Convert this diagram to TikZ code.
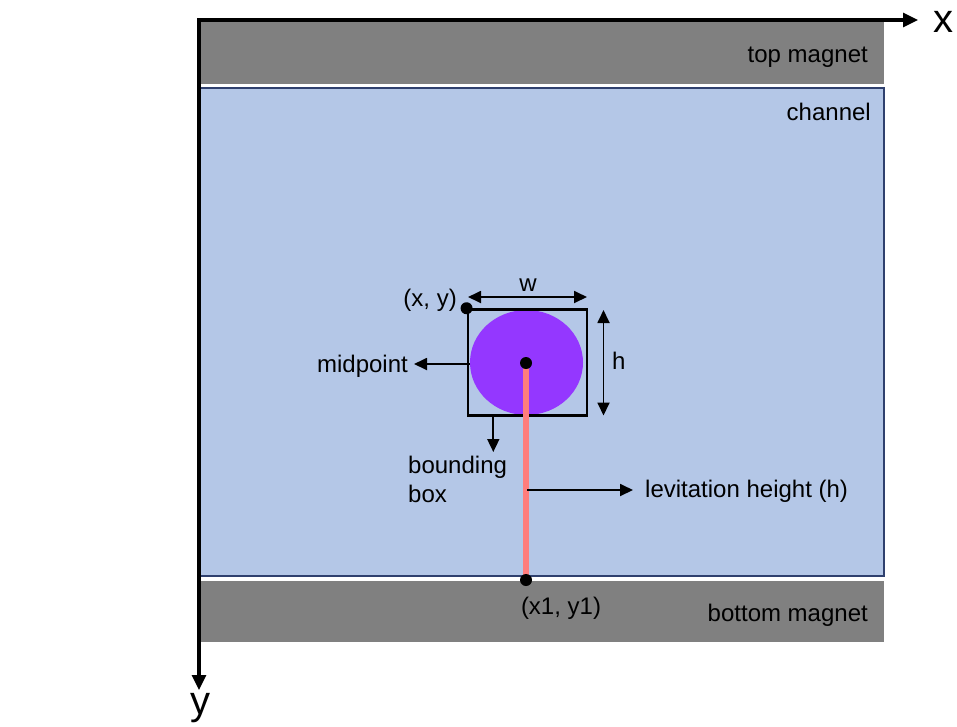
\documentclass[tikz,border=0pt]{standalone}
\usepackage{fontspec}
\setmainfont{Liberation Sans}
\usetikzlibrary{arrows.meta}
\definecolor{maggray}{RGB}{128,128,128}
\definecolor{chanblue}{RGB}{180,199,231}
\definecolor{chanedge}{RGB}{47,64,110}
\definecolor{ballpurple}{RGB}{148,55,255}
\definecolor{levpink}{RGB}{255,125,125}
\begin{document}
\begin{tikzpicture}[x=1pt,y=-1pt,
  lbl/.style={font=\fontsize{24}{29}\selectfont, inner sep=0pt},
  axlbl/.style={font=\fontsize{40}{44}\selectfont, inner sep=0pt},
  ptr/.style={line width=1.8pt, -{Triangle[length=13pt,width=12pt]}},
  dimarrow/.style={line width=1.8pt, {Triangle[length=13pt,width=12pt]}-{Triangle[length=13pt,width=12pt]}},
  dot/.style={circle, fill=black, inner sep=0pt, minimum size=12pt},
  axis/.style={line width=3.2pt, {Triangle[length=15pt,width=14pt]}-{Triangle[length=15pt,width=14pt]}, line join=miter}]
\useasboundingbox (0,0) rectangle (957,726);
% magnets and channel
\fill[maggray] (199,21) rectangle (884,84);
\filldraw[fill=chanblue, draw=chanedge, line width=1.4pt] (200,88) rectangle (884,576);
\fill[maggray] (199,581) rectangle (884,642);
\node[lbl, anchor=base east] (topmag) at (868,62) {top magnet};
\node[lbl, anchor=base east] (chan) at (871,120) {channel};
\node[lbl, anchor=base east] (botmag) at (868,621) {bottom magnet};
% axes
\coordinate (O) at (199,20);
\coordinate (xend) at (918,20);
\coordinate (yend) at (199,690);
\draw[axis] (xend) -- (O) -- (yend);
\node[axlbl, anchor=base] (xl) at (943,32) {x};
\node[axlbl, anchor=base] (yl) at (200,714) {y};
% object
\fill[ballpurple] (526.5,362.5) ellipse (56.5 and 52.5);
\node[draw, line width=2.5pt, minimum width=119pt, minimum height=106pt, inner sep=0pt] (bb) at (527.3,362.5) {};
\coordinate (mid) at (526,363);
\coordinate (ground) at (526,580);
\draw[levpink, line width=6.5pt] (mid) -- (ground);
\node[dot] (middot) at (mid) {};
\node[dot] (gdot) at (ground) {};
\node[dot] (xydot) at (bb.north west) {};
% labels and pointers
\node[lbl, anchor=base east] (midlbl) at (408,372) {midpoint};
\coordinate (midstart) at (470,364);
\draw[ptr] (midstart) -- ([xshift=6pt]midlbl.east |- midstart);
\node[lbl, anchor=base east] (xylbl) at (457,306) {(x, y)};
\coordinate (wl) at (468,297);
\coordinate (wr) at (587,297);
\draw[dimarrow] (wl) -- (wr);
\node[lbl, anchor=base] (wlbl) at (528,291) {w};
\coordinate (ht) at (603.5,310);
\coordinate (hb) at (603.5,415.5);
\draw[dimarrow] (ht) -- (hb);
\node[lbl, anchor=base west] (hlbl) at (612,369) {h};
\coordinate (bbs) at (493.3,415.5);
\coordinate (bbe) at (493.3,452);
\draw[ptr] (bbs) -- (bbe);
\node[lbl, anchor=base west, align=left] (bblbl) at (408,502) {bounding\\box};
\coordinate (levs) at (527,490);
\node[lbl, anchor=base west] (levlbl) at (645,497) {levitation height (h)};
\draw[ptr] (levs) -- ([xshift=-12pt]levlbl.west |- levs);
\node[lbl, anchor=base] (x1lbl) at (561,614) {(x1, y1)};
\end{tikzpicture}
\end{document}
